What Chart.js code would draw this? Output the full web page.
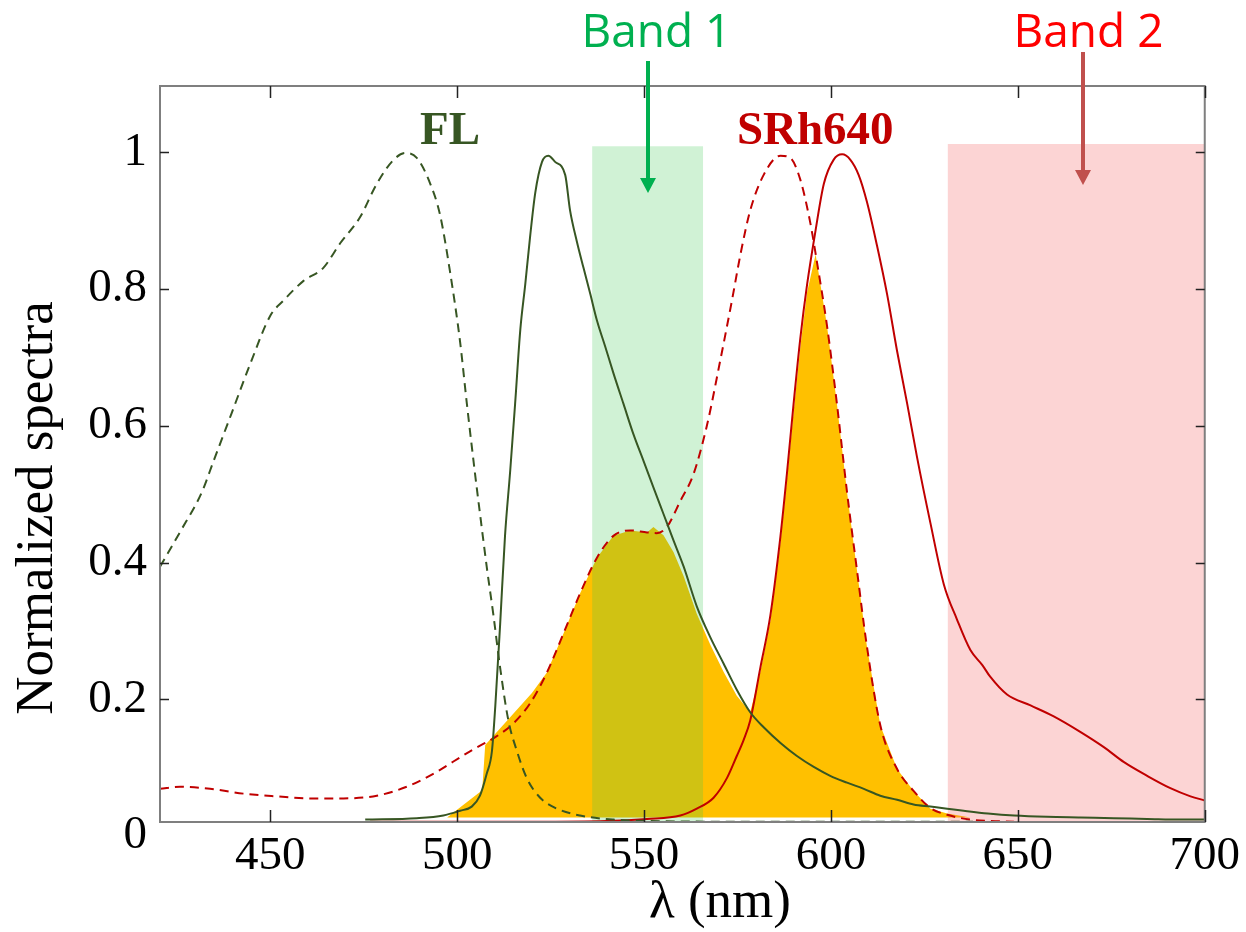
<!DOCTYPE html>
<html>
<head>
<meta charset="utf-8">
<script src="https://cdn.jsdelivr.net/npm/chart.js@4.4.1/dist/chart.umd.min.js"></script>
<style>
  html, body { margin: 0; background: #fff; }
</style>
</head>
<body>
<canvas id="chart-spectra" width="1246" height="932"></canvas>
<script>
'use strict';

/* ── Axis ticks ── */
const wavelengthTicks = [450, 500, 550, 600, 650, 700];
const spectraTicks    = [0, 0.2, 0.4, 0.6, 0.8, 1];

/* ── FL absorption (dashed) ── */
const flAbsNm  = [420.5, 425.9, 431.7, 434.8, 439.7, 444.6, 450, 453.5, 458.9, 464.2, 468.7, 474, 478.5, 483, 486.1, 489.2, 492.8, 495.4, 498.1, 500.8, 502.6, 504.8, 506.6, 508, 509.7, 511.5, 513.7, 516, 518.6, 522.2, 526.7, 532.9, 541.8, 550.8, 570, 600, 638];
const flAbsVal = [0.394, 0.445, 0.503, 0.548, 0.619, 0.690, 0.761, 0.783, 0.812, 0.831, 0.867, 0.905, 0.954, 0.989, 0.999, 0.992, 0.954, 0.909, 0.825, 0.722, 0.632, 0.529, 0.450, 0.390, 0.323, 0.246, 0.169, 0.124, 0.085, 0.056, 0.040, 0.030, 0.024, 0.022, 0.021, 0.021, 0.021];

/* ── FL emission (solid) ── */
const flEmNm  = [475.4, 489.2, 496.3, 500.8, 503.9, 506.1, 507.9, 509.3, 510.2, 511.5, 512.8, 514.2, 515.5, 516.9, 518.2, 519.5, 520.9, 522.7, 524.4, 526.2, 528.9, 530.2, 532, 533.8, 535.6, 537.4, 539.6, 541.8, 544.5, 547.2, 549.9, 552.5, 555.2, 557.9, 560.6, 564.1, 567.7, 571.3, 574.8, 578.4, 582, 586.5, 590.9, 595.4, 599.8, 604.3, 608.8, 613.2, 617.7, 622.1, 626.6, 631.1, 635.5, 642, 649, 657.8, 666.8, 675.7, 684.6, 693.5, 700];
const flEmVal = [0.024, 0.026, 0.030, 0.037, 0.043, 0.059, 0.091, 0.124, 0.190, 0.310, 0.439, 0.535, 0.632, 0.741, 0.806, 0.876, 0.941, 0.986, 0.995, 0.986, 0.967, 0.915, 0.870, 0.831, 0.793, 0.754, 0.716, 0.677, 0.632, 0.587, 0.548, 0.510, 0.471, 0.432, 0.394, 0.336, 0.291, 0.252, 0.214, 0.181, 0.159, 0.136, 0.117, 0.101, 0.088, 0.078, 0.069, 0.059, 0.053, 0.046, 0.043, 0.040, 0.037, 0.033, 0.030, 0.028, 0.027, 0.026, 0.025, 0.024, 0.024];

/* ── SRh640 absorption (dashed) ── */
const srAbsNm  = [420.5, 425.9, 433.9, 442.8, 451.7, 460.6, 469.6, 478.5, 486.5, 493.6, 499, 504.4, 510.6, 515.1, 519.5, 524, 528.5, 532.9, 537.4, 541.8, 546.3, 550.8, 553.4, 556.1, 559.7, 563.2, 566.8, 570.4, 573.5, 575.8, 578.4, 582, 586.5, 589.1, 591.8, 594.5, 596.3, 598.9, 601.6, 604.3, 607, 609.6, 613.2, 617.7, 622.1, 626.6, 631.1, 637.3, 642.6, 649];
const srAbsVal = [0.069, 0.072, 0.069, 0.062, 0.058, 0.055, 0.055, 0.059, 0.072, 0.091, 0.109, 0.127, 0.146, 0.165, 0.194, 0.239, 0.297, 0.355, 0.407, 0.439, 0.447, 0.444, 0.443, 0.452, 0.490, 0.529, 0.600, 0.696, 0.783, 0.851, 0.915, 0.967, 0.995, 0.992, 0.960, 0.896, 0.838, 0.748, 0.632, 0.503, 0.387, 0.278, 0.162, 0.098, 0.066, 0.041, 0.031, 0.024, 0.022, 0.021];

/* ── SRh640 emission (solid) ── */
const srEmNm  = [476.7, 500, 520, 540, 550.8, 559.7, 564.1, 568.6, 572.2, 574.8, 576.6, 578.4, 581.1, 583.8, 586.5, 588.2, 590, 591.8, 593.6, 595.8, 598.1, 600.7, 603, 605.2, 607.4, 609.6, 612.3, 615, 617.7, 620.4, 623, 626.6, 630.2, 633.7, 637.3, 640.5, 642.6, 647.1, 653.4, 659.6, 666.8, 673, 678.4, 684.6, 690.8, 696.2, 700];
const srEmVal = [0.021, 0.021, 0.021, 0.022, 0.025, 0.030, 0.040, 0.056, 0.085, 0.117, 0.140, 0.169, 0.246, 0.323, 0.439, 0.529, 0.632, 0.728, 0.806, 0.883, 0.954, 0.989, 0.997, 0.989, 0.967, 0.928, 0.864, 0.793, 0.709, 0.632, 0.555, 0.458, 0.368, 0.317, 0.272, 0.250, 0.233, 0.207, 0.191, 0.175, 0.152, 0.130, 0.108, 0.088, 0.070, 0.058, 0.052];

/* ── Overlap (orange area) ── */
const overlapNm  = [497.3, 506.7, 507.5, 520, 524, 528.5, 532.9, 537.4, 541.8, 546.3, 550.8, 552.5, 555.2, 557.9, 560.6, 564.1, 567.7, 571.3, 574.8, 578.4, 581.1, 583.8, 586.5, 588.2, 590, 591.8, 593.6, 595.9, 598.9, 601.6, 604.3, 607, 609.6, 613.2, 617.7, 622.1, 626.6, 631.1, 637.3];
const overlapVal = [0.027, 0.067, 0.133, 0.209, 0.239, 0.297, 0.355, 0.407, 0.439, 0.447, 0.444, 0.452, 0.440, 0.415, 0.380, 0.325, 0.280, 0.240, 0.205, 0.181, 0.240, 0.315, 0.430, 0.520, 0.620, 0.715, 0.795, 0.851, 0.748, 0.632, 0.503, 0.387, 0.278, 0.162, 0.098, 0.066, 0.040, 0.033, 0.027];
const overlapBase = 0.027;

/* ── Detection bands ── */
const bandNames = ['Band 1', 'Band 2'];
const bandStart = [536.1, 631.2];
const bandEnd   = [565.8, 700];
const bandTop   = [1.009, 1.012];

const GREEN_DARK = '#375623';
const RED_DARK   = '#C00000';

function pts(nm, val) {
  return nm.map((x, i) => ({ x, y: val[i] }));
}

function line(label, nm, val, color, dashed) {
  return {
    label,
    data: pts(nm, val),
    borderColor: color,
    borderWidth: 2,
    borderDash: dashed ? [9, 6] : [],
    pointRadius: 0,
    cubicInterpolationMode: 'monotone',
    fill: false,
  };
}

function band(i, color) {
  return {
    label: bandNames[i],
    data: [{ x: bandStart[i], y: bandTop[i] }, { x: bandEnd[i], y: bandTop[i] }],
    borderWidth: 0,
    borderColor: 'rgba(0,0,0,0)',
    backgroundColor: color,
    pointRadius: 0,
    tension: 0,
    fill: 'start',
  };
}

/* Box around the plot with inward tick marks on all four sides */
const boxPlugin = {
  id: 'box',
  afterDatasetsDraw(chart) {
    const { ctx, chartArea: a, scales: { x, y } } = chart;
    ctx.save();
    ctx.strokeStyle = '#7f7f7f';
    ctx.lineWidth = 2;
    ctx.strokeRect(a.left, a.top, a.right - a.left, a.bottom - a.top);
    ctx.strokeStyle = '#222';
    ctx.lineWidth = 1.5;
    ctx.beginPath();
    wavelengthTicks.forEach(v => {
      const px = Math.round(x.getPixelForValue(v)) + 0.5;
      ctx.moveTo(px, a.bottom); ctx.lineTo(px, a.bottom - 12);
      ctx.moveTo(px, a.top);    ctx.lineTo(px, a.top + 12);
    });
    spectraTicks.forEach(v => {
      const py = Math.round(y.getPixelForValue(v)) + 0.5;
      if (py > a.bottom || py < a.top) return;
      ctx.moveTo(a.left, py);  ctx.lineTo(a.left + 9, py);
      ctx.moveTo(a.right, py); ctx.lineTo(a.right - 9, py);
    });
    ctx.stroke();
    ctx.restore();
  },
};

/* Labels, arrows and axis titles */
function arrow(ctx, x, y1, y2, color) {
  ctx.strokeStyle = color;
  ctx.fillStyle = color;
  ctx.lineWidth = 4;
  ctx.beginPath();
  ctx.moveTo(x, y1);
  ctx.lineTo(x, y2 - 14);
  ctx.stroke();
  ctx.beginPath();
  ctx.moveTo(x - 8, y2 - 15);
  ctx.lineTo(x + 8, y2 - 15);
  ctx.lineTo(x, y2);
  ctx.closePath();
  ctx.fill();
}

const notesPlugin = {
  id: 'notes',
  afterDraw(chart) {
    const { ctx, scales: { x } } = chart;
    ctx.save();
    ctx.textAlign = 'center';
    ctx.textBaseline = 'alphabetic';

    ctx.font = 'bold 47px "Liberation Serif", "Times New Roman", serif';
    ctx.fillStyle = GREEN_DARK;
    ctx.fillText('FL', x.getPixelForValue(498.1), 144);
    ctx.fillStyle = RED_DARK;
    ctx.fillText('SRh640', x.getPixelForValue(595.8), 144);

    ctx.font = '46px "Open Sans", sans-serif';
    ctx.fillStyle = '#00B050';
    ctx.fillText(bandNames[0], x.getPixelForValue(553.3), 47);
    ctx.fillStyle = '#FF0000';
    ctx.fillText(bandNames[1], x.getPixelForValue(668.9), 47);

    arrow(ctx, Math.round(x.getPixelForValue(551.1)), 61, 193, '#00B050');
    arrow(ctx, Math.round(x.getPixelForValue(667.3)), 52, 185, '#C0504D');

    ctx.fillStyle = '#000';
    ctx.font = '53px "Liberation Serif", "Times New Roman", serif';
    ctx.fillText('λ (nm)', 720, 917);
    ctx.translate(52, 508);
    ctx.rotate(-Math.PI / 2);
    ctx.fillText('Normalized spectra', 0, 0);
    ctx.restore();
  },
};

const tickFont = { family: '"Liberation Serif", "Times New Roman", serif', size: 47 };

new Chart(document.getElementById('chart-spectra'), {
  type: 'line',
  data: {
    datasets: [
      line('FL abs', flAbsNm, flAbsVal, GREEN_DARK, true),
      line('FL em', flEmNm, flEmVal, GREEN_DARK, false),
      line('SRh640 abs', srAbsNm, srAbsVal, RED_DARK, true),
      line('SRh640 em', srEmNm, srEmVal, RED_DARK, false),
      band(1, 'rgba(245,90,90,0.26)'),
      band(0, 'rgba(60,200,80,0.24)'),
      {
        label: 'Overlap',
        data: pts(overlapNm, overlapVal),
        borderWidth: 0,
        borderColor: 'rgba(0,0,0,0)',
        backgroundColor: '#FFC000',
        pointRadius: 0,
        tension: 0,
        fill: { value: overlapBase },
      },
    ],
  },
  options: {
    responsive: false,
    animation: false,
    layout: { padding: { top: 86, right: 40, left: 0, bottom: 0 } },
    plugins: {
      legend: { display: false },
      tooltip: { enabled: false },
    },
    scales: {
      x: {
        type: 'linear',
        min: 420.5,
        max: 700,
        afterBuildTicks: s => { s.ticks = wavelengthTicks.map(v => ({ value: v })); },
        afterFit: s => { s.height = 110; },
        grid: { display: false, drawTicks: false },
        border: { display: false },
        ticks: { font: tickFont, color: '#000', padding: 6, maxRotation: 0, autoSkip: false },
      },
      y: {
        type: 'linear',
        min: 0.0205,
        max: 1.097,
        afterBuildTicks: s => { s.ticks = spectraTicks.map(v => ({ value: v })); },
        afterFit: s => { s.width = 160; },
        grid: { display: false, drawTicks: false },
        border: { display: false },
        ticks: {
          font: tickFont,
          color: '#000',
          padding: 13,
          autoSkip: false,
          callback: v => String(+v.toFixed(1)),
        },
      },
    },
  },
  plugins: [boxPlugin, notesPlugin],
});
</script>
</body>
</html>
